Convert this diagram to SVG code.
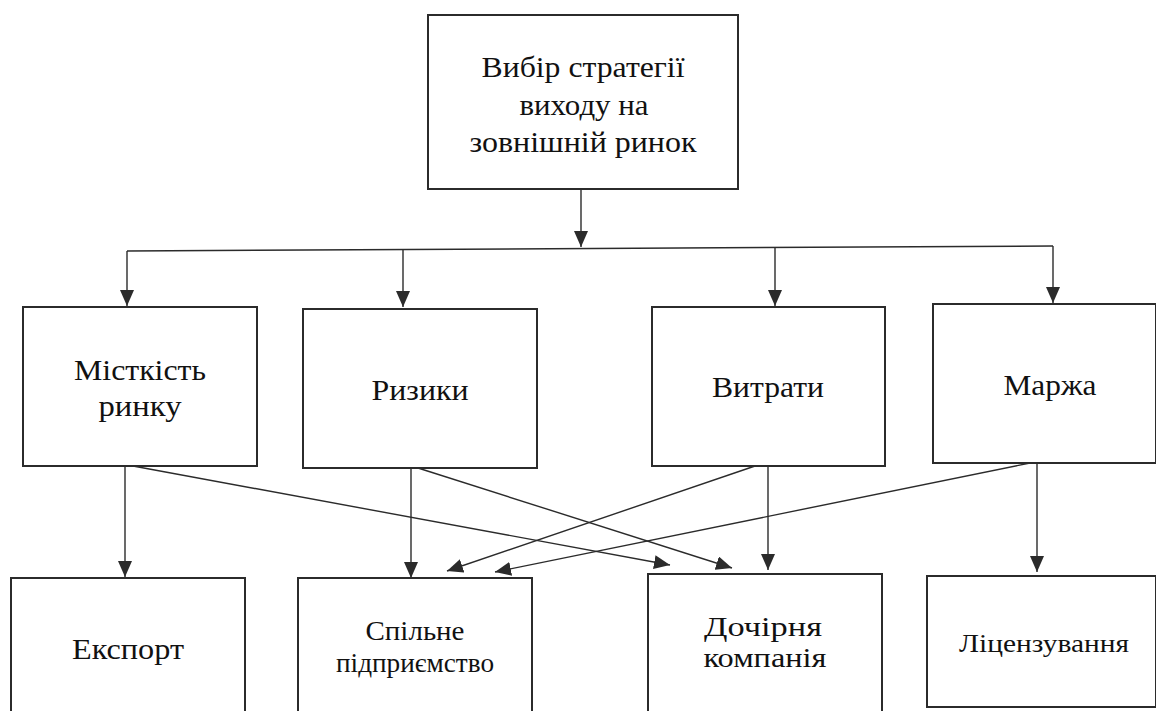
<svg xmlns="http://www.w3.org/2000/svg" width="1156" height="711" viewBox="0 0 1156 711">
<style>
.box{fill:#fff;stroke:#2b2b2b;stroke-width:2}
.t{font-family:"Liberation Serif","Times New Roman",serif;fill:#111;text-anchor:middle}
.c{fill:none;stroke:#2b2b2b;stroke-width:1.4}
</style>
<defs>
<marker id="ah" viewBox="0 0 16 14" refX="16" refY="7" markerWidth="16" markerHeight="14" markerUnits="userSpaceOnUse" orient="auto">
<path d="M0,0 L16,7 L0,14 Z" fill="#2b2b2b"/>
</marker>
</defs>
<rect width="1156" height="711" fill="#fff"/>
<g id="connectors">
<line class="c" x1="581" y1="189" x2="581" y2="247" marker-end="url(#ah)"/>
<polyline class="c" points="127,251 1053,246"/>
<line class="c" x1="127" y1="251" x2="127" y2="306" marker-end="url(#ah)"/>
<line class="c" x1="403" y1="250" x2="403" y2="307" marker-end="url(#ah)"/>
<line class="c" x1="775" y1="248" x2="775" y2="306" marker-end="url(#ah)"/>
<line class="c" x1="1053" y1="246" x2="1053" y2="303" marker-end="url(#ah)"/>
<line class="c" x1="125" y1="466" x2="125" y2="577" marker-end="url(#ah)"/>
<line class="c" x1="133" y1="466" x2="670" y2="565" marker-end="url(#ah)"/>
<line class="c" x1="411" y1="468" x2="411" y2="578" marker-end="url(#ah)"/>
<line class="c" x1="418" y1="468" x2="732" y2="568" marker-end="url(#ah)"/>
<line class="c" x1="755" y1="466" x2="447" y2="571" marker-end="url(#ah)"/>
<line class="c" x1="768" y1="466" x2="768" y2="570" marker-end="url(#ah)"/>
<line class="c" x1="1030" y1="463" x2="495" y2="572" marker-end="url(#ah)"/>
<line class="c" x1="1037" y1="463" x2="1037" y2="572" marker-end="url(#ah)"/>
</g>
<g id="n-top">
<rect class="box" x="428" y="15" width="310" height="174"/>
<text class="t" x="583" y="77" font-size="30" textLength="203" lengthAdjust="spacingAndGlyphs">Вибір стратегії</text>
<text class="t" x="584" y="115" font-size="30" textLength="129" lengthAdjust="spacingAndGlyphs">виходу на</text>
<text class="t" x="583" y="152" font-size="30" textLength="227" lengthAdjust="spacingAndGlyphs">зовнішній ринок</text>
</g>
<g id="n-mistkist">
<rect class="box" x="23" y="307" width="234" height="159"/>
<text class="t" x="140" y="380" font-size="30" textLength="132" lengthAdjust="spacingAndGlyphs">Місткість</text>
<text class="t" x="140" y="416" font-size="30" textLength="83" lengthAdjust="spacingAndGlyphs">ринку</text>
</g>
<g id="n-ryzyky">
<rect class="box" x="303" y="309" width="234" height="159"/>
<text class="t" x="420" y="400" font-size="30" textLength="97" lengthAdjust="spacingAndGlyphs">Ризики</text>
</g>
<g id="n-vytraty">
<rect class="box" x="652" y="307" width="233" height="159"/>
<text class="t" x="768" y="397" font-size="30" textLength="112" lengthAdjust="spacingAndGlyphs">Витрати</text>
</g>
<g id="n-marzha">
<rect class="box" x="933" y="304" width="223" height="159"/>
<text class="t" x="1050" y="395" font-size="30" textLength="93" lengthAdjust="spacingAndGlyphs">Маржа</text>
</g>
<g id="n-eksport">
<rect class="box" x="11" y="578" width="234" height="140"/>
<text class="t" x="128" y="659" font-size="30" textLength="112" lengthAdjust="spacingAndGlyphs">Експорт</text>
</g>
<g id="n-spilne">
<rect class="box" x="298" y="578" width="234" height="140"/>
<text class="t" x="415" y="640" font-size="27" textLength="99" lengthAdjust="spacingAndGlyphs">Спільне</text>
<text class="t" x="415" y="672" font-size="27" textLength="158" lengthAdjust="spacingAndGlyphs">підприємство</text>
</g>
<g id="n-dochirnia">
<rect class="box" x="648" y="574" width="234" height="140"/>
<text class="t" x="763" y="636" font-size="27" textLength="118" lengthAdjust="spacingAndGlyphs">Дочірня</text>
<text class="t" x="765" y="667" font-size="27" textLength="123" lengthAdjust="spacingAndGlyphs">компанія</text>
</g>
<g id="n-litsenzuvannia">
<rect class="box" x="927" y="576" width="229" height="131"/>
<text class="t" x="1044" y="652" font-size="26" textLength="170" lengthAdjust="spacingAndGlyphs">Ліцензування</text>
</g>
</svg>
